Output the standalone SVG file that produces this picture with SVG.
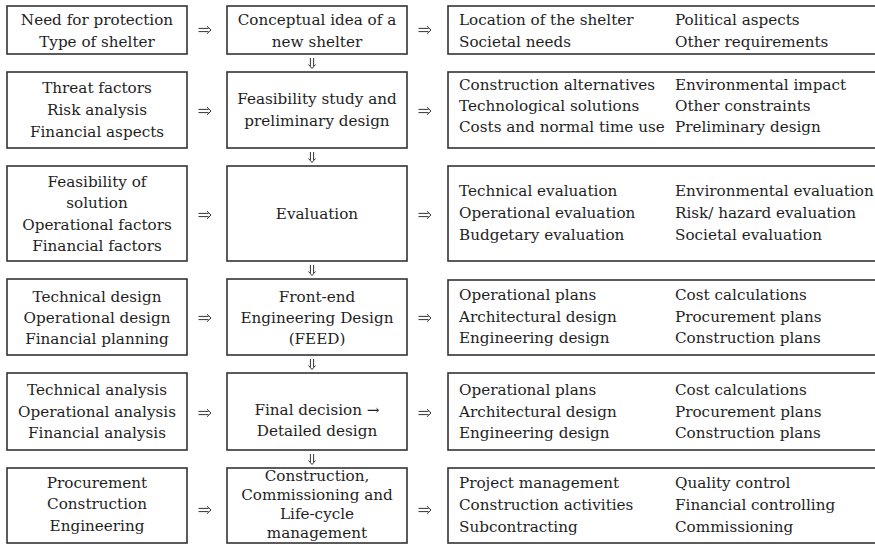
<svg xmlns="http://www.w3.org/2000/svg" xmlns:xlink="http://www.w3.org/1999/xlink" width="875" height="544" viewBox="0 0 875 544">
<style>
.box{fill:#fff;stroke:#333;stroke-width:1.6}
text{font-family:"DejaVu Serif","Liberation Serif",serif;font-size:15.2px;fill:#1e1e1e}
.c{text-anchor:middle}
.a{fill:none;stroke:#333;stroke-width:1;stroke-linejoin:miter}
</style>
<defs>
<g id="ra"><path class="a" d="M-6.5,-1.6 H3.5 M-6.5,1.6 H3.5 M2,-3.8 L6,0 L2,3.8"/></g>
<g id="da"><path class="a" d="M-1.6,-5 V3 M1.6,-5 V3 M-3.5,1.5 L0,5.5 L3.5,1.5"/></g>
</defs>
<rect width="875" height="544" fill="#fff"/>
<g id="connectors">
<use xlink:href="#ra" x="205" y="30"/>
<use xlink:href="#ra" x="425" y="30"/>
<use xlink:href="#ra" x="205" y="111"/>
<use xlink:href="#ra" x="425" y="111"/>
<use xlink:href="#ra" x="205" y="215"/>
<use xlink:href="#ra" x="425" y="215"/>
<use xlink:href="#ra" x="205" y="318"/>
<use xlink:href="#ra" x="425" y="318"/>
<use xlink:href="#ra" x="205" y="413"/>
<use xlink:href="#ra" x="425" y="413"/>
<use xlink:href="#ra" x="205" y="510"/>
<use xlink:href="#ra" x="425" y="510"/>
<use xlink:href="#da" x="312" y="63"/>
<use xlink:href="#da" x="312" y="157"/>
<use xlink:href="#da" x="312" y="270"/>
<use xlink:href="#da" x="312" y="364"/>
<use xlink:href="#da" x="312" y="459"/>
</g>
<g id="in1"><rect class="box" x="7" y="6" width="180" height="48"/>
<text class="c" x="97" y="25">Need for protection</text><text class="c" x="97" y="47">Type of shelter</text></g>
<g id="step1"><rect class="box" x="227" y="6" width="180" height="48"/>
<text class="c" x="317" y="25">Conceptual idea of a</text><text class="c" x="317" y="47">new shelter</text></g>
<g id="out1"><rect class="box" x="448" y="6" width="440" height="48"/>
<text x="459" y="25">Location of the shelter</text><text x="459" y="47">Societal needs</text>
<text x="675" y="25">Political aspects</text><text x="675" y="47">Other requirements</text></g>

<g id="in2"><rect class="box" x="7" y="72" width="180" height="76"/>
<text class="c" x="97" y="93">Threat factors</text><text class="c" x="97" y="115">Risk analysis</text><text class="c" x="97" y="137">Financial aspects</text></g>
<g id="step2"><rect class="box" x="227" y="72" width="180" height="76"/>
<text class="c" x="317" y="104">Feasibility study and</text><text class="c" x="317" y="126">preliminary design</text></g>
<g id="out2"><rect class="box" x="448" y="72" width="440" height="76"/>
<text x="459" y="90">Construction alternatives</text><text x="459" y="111">Technological solutions</text><text x="459" y="132">Costs and normal time use</text>
<text x="675" y="90">Environmental impact</text><text x="675" y="111">Other constraints</text><text x="675" y="132">Preliminary design</text></g>

<g id="in3"><rect class="box" x="7" y="166" width="180" height="95"/>
<text class="c" x="97" y="187">Feasibility of</text><text class="c" x="97" y="208">solution</text><text class="c" x="97" y="230">Operational factors</text><text class="c" x="97" y="251">Financial factors</text></g>
<g id="step3"><rect class="box" x="227" y="166" width="180" height="95"/>
<text class="c" x="317" y="219">Evaluation</text></g>
<g id="out3"><rect class="box" x="448" y="166" width="440" height="95"/>
<text x="459" y="196">Technical evaluation</text><text x="459" y="218">Operational evaluation</text><text x="459" y="240">Budgetary evaluation</text>
<text x="675" y="196">Environmental evaluation</text><text x="675" y="218">Risk/ hazard evaluation</text><text x="675" y="240">Societal evaluation</text></g>

<g id="in4"><rect class="box" x="7" y="279" width="180" height="76"/>
<text class="c" x="97" y="302">Technical design</text><text class="c" x="97" y="323">Operational design</text><text class="c" x="97" y="344">Financial planning</text></g>
<g id="step4"><rect class="box" x="227" y="279" width="180" height="76"/>
<text class="c" x="317" y="302">Front-end</text><text class="c" x="317" y="323">Engineering Design</text><text class="c" x="317" y="344">(FEED)</text></g>
<g id="out4"><rect class="box" x="448" y="280" width="440" height="75"/>
<text x="459" y="300">Operational plans</text><text x="459" y="322">Architectural design</text><text x="459" y="343">Engineering design</text>
<text x="675" y="300">Cost calculations</text><text x="675" y="322">Procurement plans</text><text x="675" y="343">Construction plans</text></g>

<g id="in5"><rect class="box" x="7" y="373" width="180" height="77"/>
<text class="c" x="97" y="395">Technical analysis</text><text class="c" x="97" y="417">Operational analysis</text><text class="c" x="97" y="438">Financial analysis</text></g>
<g id="step5"><rect class="box" x="227" y="373" width="180" height="77"/>
<text class="c" x="317" y="415">Final decision →</text><text class="c" x="317" y="436">Detailed design</text></g>
<g id="out5"><rect class="box" x="448" y="373" width="440" height="77"/>
<text x="459" y="395">Operational plans</text><text x="459" y="417">Architectural design</text><text x="459" y="438">Engineering design</text>
<text x="675" y="395">Cost calculations</text><text x="675" y="417">Procurement plans</text><text x="675" y="438">Construction plans</text></g>

<g id="in6"><rect class="box" x="7" y="468" width="180" height="75"/>
<text class="c" x="97" y="488">Procurement</text><text class="c" x="97" y="509">Construction</text><text class="c" x="97" y="531">Engineering</text></g>
<g id="step6"><rect class="box" x="227" y="468" width="180" height="75"/>
<text class="c" x="317" y="481">Construction,</text><text class="c" x="317" y="500">Commissioning and</text><text class="c" x="317" y="519">Life-cycle</text><text class="c" x="317" y="538">management</text></g>
<g id="out6"><rect class="box" x="448" y="468" width="440" height="75"/>
<text x="459" y="488">Project management</text><text x="459" y="510">Construction activities</text><text x="459" y="532">Subcontracting</text>
<text x="675" y="488">Quality control</text><text x="675" y="510">Financial controlling</text><text x="675" y="532">Commissioning</text></g>
</svg>
